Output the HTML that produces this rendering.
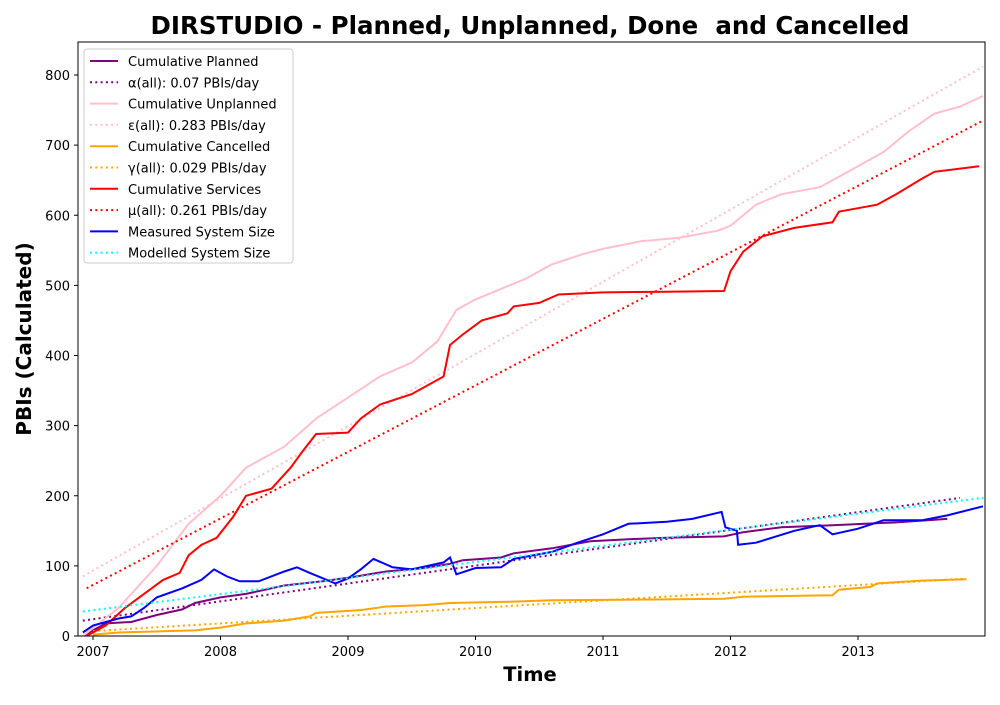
<!DOCTYPE html>
<html><head><meta charset="utf-8"><style>
body{margin:0;background:#fff;font-family:"Liberation Sans","DejaVu Sans",sans-serif}
svg text{font-family:"DejaVu Sans","Liberation Sans",sans-serif}
</style></head><body>
<svg id="chart" width="1000" height="700" xmlns="http://www.w3.org/2000/svg">
<rect width="1000" height="700" fill="#fff"/>
<text x="530" y="34" text-anchor="middle" font-size="24.5" font-weight="bold">DIRSTUDIO - Planned, Unplanned, Done&#160; and Cancelled</text>
<g id="plot"></g>
<rect x="78" y="42" width="907" height="594" fill="none" stroke="#000" stroke-width="1"/>
<g id="axes"></g>
<text x="530" y="681" text-anchor="middle" font-size="19.5" font-weight="bold">Time</text>
<text transform="translate(31,339) rotate(-90)" text-anchor="middle" font-size="20" font-weight="bold">PBIs (Calculated)</text>
<g id="legend"></g>
</svg>
<script>
const xTicks=[2007,2008,2009,2010,2011,2012,2013];
const yTicks=[0,100,200,300,400,500,600,700,800];
const planned=[[2006.92,0],[2007.1,18],[2007.3,20],[2007.5,30],[2007.7,38],[2007.8,47],[2008.0,55],[2008.2,60],[2008.5,72],[2008.8,78],[2009.0,83],[2009.3,92],[2009.6,97],[2009.8,103],[2009.9,108],[2010.2,112],[2010.3,118],[2010.6,125],[2010.9,135],[2011.2,138],[2011.5,140],[2011.95,142],[2012.1,148],[2012.4,155],[2012.8,158],[2013.3,162],[2013.7,167]];
const plannedFit=[[2006.92,22],[2013.8,197]];
const unplanned=[[2006.92,0],[2007.2,40],[2007.5,100],[2007.75,160],[2008.0,200],[2008.2,240],[2008.5,270],[2008.75,310],[2009.0,340],[2009.25,370],[2009.5,390],[2009.7,420],[2009.85,465],[2010.0,480],[2010.2,495],[2010.4,510],[2010.6,530],[2010.85,545],[2011.0,552],[2011.3,563],[2011.6,568],[2011.9,578],[2012.0,585],[2012.2,615],[2012.4,630],[2012.7,640],[2012.9,660],[2013.0,670],[2013.2,690],[2013.4,720],[2013.6,745],[2013.8,755],[2013.98,770]];
const unplannedFit=[[2006.92,85],[2013.98,812]];
const cancelled=[[2007.0,2],[2007.2,5],[2007.8,8],[2008.0,12],[2008.2,18],[2008.5,22],[2008.7,28],[2008.75,33],[2009.1,37],[2009.3,42],[2009.6,44],[2009.8,47],[2010.3,49],[2010.6,51],[2011.4,52],[2011.95,53],[2012.1,56],[2012.8,58],[2012.85,66],[2013.1,70],[2013.15,75],[2013.5,79],[2013.85,81]];
const cancelledFit=[[2007.0,7],[2013.85,82]];
const services=[[2006.95,0],[2007.1,15],[2007.25,40],[2007.4,60],[2007.55,80],[2007.68,90],[2007.75,115],[2007.85,130],[2007.97,140],[2008.1,170],[2008.2,200],[2008.4,210],[2008.55,240],[2008.65,265],[2008.75,288],[2009.0,290],[2009.1,310],[2009.25,330],[2009.5,345],[2009.65,360],[2009.75,370],[2009.8,415],[2009.9,430],[2010.05,450],[2010.25,460],[2010.3,470],[2010.5,475],[2010.65,487],[2011.0,490],[2011.5,491],[2011.95,492],[2012.0,520],[2012.1,548],[2012.25,570],[2012.5,582],[2012.8,590],[2012.85,605],[2013.0,610],[2013.15,615],[2013.3,630],[2013.5,652],[2013.6,662],[2013.95,670]];
const servicesFit=[[2006.95,68],[2013.98,735]];
const measured=[[2006.92,5],[2007.0,15],[2007.2,25],[2007.3,28],[2007.4,40],[2007.5,55],[2007.7,68],[2007.85,80],[2007.95,95],[2008.05,85],[2008.15,78],[2008.3,78],[2008.5,92],[2008.6,98],[2008.7,90],[2008.9,75],[2009.0,82],[2009.1,95],[2009.2,110],[2009.35,98],[2009.5,95],[2009.75,105],[2009.8,112],[2009.85,88],[2010.0,97],[2010.2,98],[2010.3,110],[2010.6,120],[2010.8,133],[2011.0,145],[2011.2,160],[2011.5,163],[2011.7,167],[2011.93,177],[2011.96,155],[2012.05,150],[2012.06,130],[2012.2,133],[2012.5,150],[2012.7,158],[2012.8,145],[2013.0,153],[2013.2,165],[2013.5,165],[2013.7,172],[2013.98,185]];
const modelled=[[2006.92,35],[2013.98,197]];
const labels=["Cumulative Planned","α(all): 0.07 PBIs/day","Cumulative Unplanned","ε(all): 0.283 PBIs/day","Cumulative Cancelled","γ(all): 0.029 PBIs/day","Cumulative Services","μ(all): 0.261 PBIs/day","Measured System Size","Modelled System Size"];
const NS="http://www.w3.org/2000/svg";
const X=v=>93+(v-2007)*127.5;
const Y=v=>636-v*0.70125;
const plot=document.getElementById('plot'),axes=document.getElementById('axes'),leg=document.getElementById('legend');
function mk(t,a,p){const e=document.createElementNS(NS,t);for(const k in a)e.setAttribute(k,a[k]);p.appendChild(e);return e;}
const series=[
 [planned,'purple',false,'cumulative-planned-line'],[plannedFit,'purple',true,'planned-fit-line'],
 [unplanned,'pink',false,'cumulative-unplanned-line'],[unplannedFit,'pink',true,'unplanned-fit-line'],
 [cancelled,'orange',false,'cumulative-cancelled-line'],[cancelledFit,'orange',true,'cancelled-fit-line'],
 [services,'red',false,'cumulative-services-line'],[servicesFit,'red',true,'services-fit-line'],
 [measured,'blue',false,'measured-system-size-line'],[modelled,'cyan',true,'modelled-system-size-line']];
const clip=mk('clipPath',{id:'cp'},mk('defs',{},plot));mk('rect',{x:78,y:42,width:907,height:594},clip);
series.forEach(s=>{
 const p=mk('polyline',{points:s[0].map(d=>X(d[0]).toFixed(1)+','+Y(d[1]).toFixed(1)).join(' '),fill:'none',stroke:s[1],'stroke-width':2,'clip-path':'url(#cp)'},plot);
 if(s[2])p.setAttribute('stroke-dasharray','2,3.3');
 
 
});
xTicks.forEach(t=>{
 mk('line',{x1:X(t),x2:X(t),y1:636,y2:640,stroke:'#000'},axes);
 const e=mk('text',{x:X(t),y:656,'text-anchor':'middle','font-size':13},axes);e.textContent=t;
 
 
});
yTicks.forEach(t=>{
 mk('line',{x1:74,x2:78,y1:Y(t),y2:Y(t),stroke:'#000'},axes);
 const e=mk('text',{x:70,y:Y(t)+5,'text-anchor':'end','font-size':13},axes);e.textContent=t;
 
 
});
const box=mk('rect',{x:84,y:49,width:209,height:214,rx:3,fill:'#fff','fill-opacity':0.8,stroke:'#ccc'},leg);


labels.forEach((l,i)=>{
 const y=61+i*21.3;
 const ln=mk('line',{x1:90,x2:118,y1:y,y2:y,stroke:series[i][1],'stroke-width':2},leg);
 if(series[i][2])ln.setAttribute('stroke-dasharray','2,3.3');
 const e=mk('text',{x:128,y:y+5,'font-size':13},leg);e.textContent=l;
 
 
});
</script>
</body></html>
